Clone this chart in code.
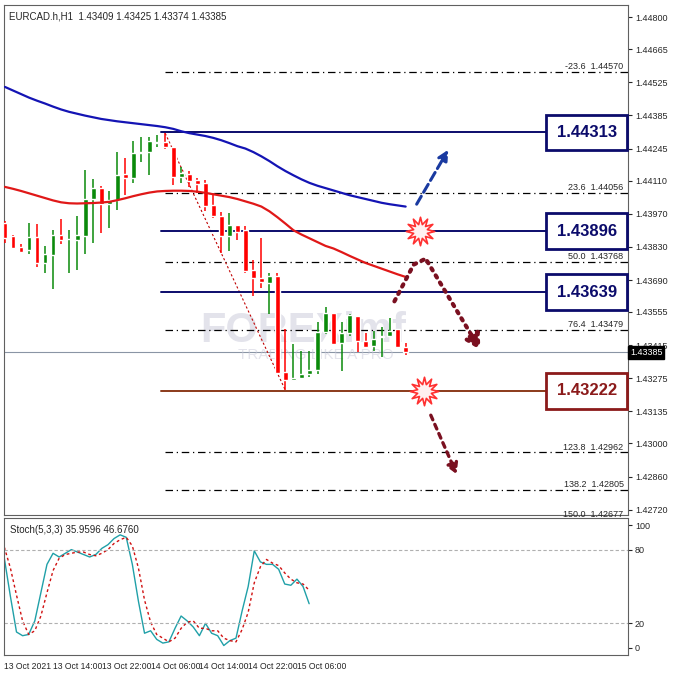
import numpy as np, pandas as pd, seaborn as sns
import matplotlib
matplotlib.use("Agg")
import matplotlib.pyplot as plt
from matplotlib.transforms import blended_transform_factory as btf

sns.set_style("white")
plt.rcParams['font.family'] = ['Liberation Sans', 'DejaVu Sans']

opens = [1.43931,1.43875,1.43829,1.43815,1.43872,1.43760,1.43795,1.43879,1.43862,1.43861,1.43875,1.44033,1.44078,1.44011,1.44029,1.44137,1.44120,1.44225,1.44232,1.44270,1.44274,1.44250,1.44123,1.44138,1.44113,1.44099,1.44005,1.43959,1.43875,1.43921,1.43900,1.43732,1.43700,1.43679,1.43707,1.43300,1.43270,1.43277,1.43294,1.43311,1.43469,1.43549,1.43423,1.43465,1.43539,1.43434,1.43413,1.43448,1.43455,1.43483,1.43409]
highs = [1.43938,1.43882,1.43840,1.43931,1.43927,1.43833,1.43903,1.43948,1.43903,1.43959,1.44155,1.44116,1.44085,1.44064,1.44232,1.44207,1.44277,1.44295,1.44295,1.44302,1.44309,1.44250,1.44169,1.44151,1.44120,1.44113,1.44057,1.43977,1.43973,1.43924,1.43917,1.43773,1.43868,1.43721,1.43721,1.43483,1.43420,1.43392,1.43392,1.43511,1.43574,1.43549,1.43511,1.43546,1.43539,1.43465,1.43476,1.43490,1.43528,1.43483,1.43425]
lows = [1.43847,1.43822,1.43805,1.43798,1.43745,1.43721,1.43651,1.43840,1.43721,1.43731,1.43798,1.43847,1.43889,1.43910,1.43987,1.44050,1.44099,1.44190,1.44134,1.44253,1.44243,1.44092,1.44099,1.44081,1.44057,1.43980,1.43952,1.43805,1.43812,1.43861,1.43721,1.43623,1.43658,1.43546,1.43294,1.43224,1.43263,1.43273,1.43280,1.43294,1.43462,1.43417,1.43308,1.43455,1.43385,1.43406,1.43392,1.43364,1.43448,1.43406,1.43374]
closes = [1.43868,1.43826,1.43809,1.43872,1.43763,1.43798,1.43882,1.43861,1.43865,1.43878,1.44032,1.44078,1.44012,1.44029,1.44134,1.44120,1.44225,1.44232,1.44277,1.44274,1.44250,1.44123,1.44141,1.44109,1.44096,1.44001,1.43959,1.43875,1.43924,1.43892,1.43728,1.43700,1.43680,1.43707,1.43297,1.43266,1.43276,1.43294,1.43311,1.43469,1.43549,1.43420,1.43465,1.43543,1.43434,1.43409,1.43441,1.43454,1.43476,1.43409,1.43385]
ma_slow = [1.44505,1.44490,1.44475,1.44460,1.44447,1.44435,1.44422,1.44410,1.44400,1.44392,1.44384,1.44377,1.44370,1.44365,1.44360,1.44356,1.44352,1.44348,1.44344,1.44340,1.44335,1.44328,1.44318,1.44310,1.44304,1.44298,1.44290,1.44280,1.44268,1.44255,1.44245,1.44230,1.44212,1.44192,1.44170,1.44150,1.44132,1.44115,1.44100,1.44088,1.44078,1.44068,1.44058,1.44048,1.44040,1.44032,1.44024,1.44016,1.44010,1.44005,1.44000]
ma_fast = [1.44083,1.44075,1.44066,1.44056,1.44046,1.44036,1.44026,1.44018,1.44014,1.44013,1.44014,1.44015,1.44017,1.44020,1.44027,1.44035,1.44044,1.44052,1.44059,1.44064,1.44066,1.44067,1.44067,1.44066,1.44063,1.44058,1.44052,1.44046,1.44040,1.44032,1.44022,1.44012,1.44000,1.43980,1.43955,1.43928,1.43900,1.43882,1.43866,1.43850,1.43834,1.43823,1.43808,1.43792,1.43777,1.43762,1.43750,1.43738,1.43726,1.43714,1.43703]
stoch_main = [73,42,13,10,11,22,45,68,77,74,77,80,78,76,74,76,81,84,89,92,90,68,38,12,14,7,4,5,16,26,22,17,10,20,12,10,2,6,8,30,50,79,70,68,68,64,52,51,56,50,36]
stoch_signal = [82,65,43,22,11,14,26,45,63,73,76,77,78,78,76,75,77,80,85,88,90,83,65,39,21,11,8,5,8,16,21,22,16,16,14,14,8,6,5,15,29,53,66,72,69,67,61,56,53,52,47]
fib_levels = ["-23.6","23.6","50.0","76.4","123.8","138.2","150.0"]
fib_prices = [1.44570,1.44056,1.43768,1.43479,1.42962,1.42805,1.42677]
key_levels = [1.44313,1.43896,1.43639]
support_level = 1.43222
current_price = 1.43385
price_ticks = [1.44800,1.44665,1.44525,1.44385,1.44245,1.44110,1.43970,1.43830,1.43690,1.43555,1.43415,1.43275,1.43135,1.43000,1.42860,1.42720]
time_labels = ["13 Oct 2021","13 Oct 14:00","13 Oct 22:00","14 Oct 06:00","14 Oct 14:00","14 Oct 22:00","15 Oct 06:00"]

W = 678
fig = plt.figure(figsize=(6.78,6.78), dpi=100)
ax = fig.add_axes([4/W, 163/W, 624/W, 510/W])
ax2 = fig.add_axes([4/W, 23/W, 624/W, 137/W])
n = len(opens)
idx = np.arange(n)
ax.set_xlim(-0.125, 77.75)
ax.set_ylim(1.42698, 1.44851)

GREEN, RED = "#0a8a0a", "#ff0000"
cols = [GREEN if c >= o else RED for o, c in zip(opens, closes)]
ax.vlines(idx, lows, highs, colors=cols, lw=1.1, zorder=3)
bot = np.minimum(opens, closes); hgt = np.maximum(np.abs(np.array(closes)-np.array(opens)), 0.00003)
ax.bar(idx, hgt, bottom=bot, width=0.6, color=cols, zorder=4)

df = pd.DataFrame({"i": idx, "slow": ma_slow, "fast": ma_fast})
sns.lineplot(data=df, x="i", y="slow", ax=ax, color="#1414b4", lw=1.6, zorder=5)
sns.lineplot(data=df, x="i", y="fast", ax=ax, color="#e01818", lw=1.6, zorder=5)

for lv, p in zip(fib_levels, fib_prices):
    ax.plot([20, 77.75], [p, p], color="black", lw=0.9, ls=(0, (6, 3, 1, 3)), zorder=2)
    ax.text(77.2, p + 0.00004, f"{lv}  {p:.5f}", ha="right", va="bottom", fontsize=6.5)
ax.plot([20, 35], [highs[20], lows[35]], color="#c00000", lw=0.8, ls=(0, (2, 2)), zorder=2)
for p in key_levels:
    ax.plot([19.5, 77.75], [p, p], color="#0b0b6b", lw=1.4, zorder=2)
ax.plot([19.5, 77.75], [support_level]*2, color="#8b3a1a", lw=1.4, zorder=2)
ax.axhline(current_price, color="#8a95a5", lw=0.8, zorder=1)

tr = btf(ax.transAxes, ax.transData)
bb = dict(boxstyle="square,pad=0.62", fc="white", lw=2)
for p in key_levels:
    ax.text(0.934, p, f"{p:.5f}", transform=tr, ha="center", va="center", fontsize=12, fontweight="bold",
            color="#0b0b6b", bbox=dict(bb, ec="#0b0b6b"), zorder=8)
ax.text(0.934, support_level, f"{support_level:.5f}", transform=tr, ha="center", va="center", fontsize=12,
        fontweight="bold", color="#8b1a1a", bbox=dict(bb, ec="#8b1a1a"), zorder=8)

ax.annotate("", xy=(55.5, 1.44250), xytext=(51.2, 1.44000),
            arrowprops=dict(arrowstyle="-|>,head_width=0.3,head_length=0.6", color="#1a3aa0", lw=2.2, ls=(0, (3, 1.5))))
ax.plot([48.6, 51.0, 52.5], [1.43600, 1.43755, 1.43780], color="#7a1020", lw=3, ls=(0, (0.6, 1.4)), dash_capstyle="round", zorder=6)
ax.annotate("", xy=(59.5, 1.43385), xytext=(52.5, 1.43780),
            arrowprops=dict(arrowstyle="-|>,head_width=0.5,head_length=0.9", color="#7a1020", lw=3, ls=(0, (0.6, 1.4))))
ax.annotate("", xy=(56.5, 1.42860), xytext=(53, 1.43130),
            arrowprops=dict(arrowstyle="-|>,head_width=0.35,head_length=0.6", color="#7a1020", lw=2.4, ls=(0, (1.5, 1.5))))
ax.scatter([51.8, 52.3], [1.43896, 1.43222], marker=(12, 1, 0), s=420, c="#fff0f0", edgecolors="#ff3030", lw=1.2, zorder=7)

ax.text(0.48, 0.34, "FOREXimf", transform=ax.transAxes, fontsize=30, fontweight="bold", color="#c8c8d8", alpha=0.5, ha="center", zorder=1)
ax.text(0.5, 0.305, "TRADING LIKE A PRO", transform=ax.transAxes, fontsize=11, color="#c8c8d8", alpha=0.5, ha="center", zorder=1)

ax.text(0.008, 0.988, f"EURCAD.h,H1  {opens[-1]:.5f} {highs[-1]:.5f} {lows[-1]:.5f} {closes[-1]:.5f}",
        transform=ax.transAxes, fontsize=7, va="top")
ax.yaxis.tick_right()
ax.set_yticks(price_ticks)
ax.set_yticklabels([f"{t:.5f}" for t in price_ticks], fontsize=6.5)
ax.set_xticks([]); ax.set_xlabel(""); ax.set_ylabel("")
ax.text(1.003, current_price, f"{current_price:.5f}", transform=tr, fontsize=6.5, color="white", va="center",
        bbox=dict(boxstyle="square,pad=0.2", fc="black", ec="black"), clip_on=False, zorder=9)
ax.tick_params(axis="y", length=3, pad=2)

sd = pd.DataFrame({"i": idx, "m": stoch_main, "s": stoch_signal})
sns.lineplot(data=sd, x="i", y="m", ax=ax2, color="#20a0a8", lw=1.0)
sns.lineplot(data=sd, x="i", y="s", ax=ax2, color="#d01010", lw=1.0, ls=(0, (2, 2)))
ax2.axhline(80, color="#b0b0b0", lw=0.8, ls=(0, (3, 2)))
ax2.axhline(20, color="#b0b0b0", lw=0.8, ls=(0, (3, 2)))
ax2.set_xlim(-0.05, 102.3)
ax2.set_ylim(-5.7, 105.7)
ax2.yaxis.tick_right()
ax2.set_yticks([100, 80, 20, 0]); ax2.set_yticklabels(["100", "80", "20", "0"], fontsize=6.5)
ax2.set_xticks(np.arange(0, 49, 8))
ax2.set_xticklabels(time_labels, fontsize=6.2, ha="left")
ax2.tick_params(axis="x", length=3, pad=2)
ax2.tick_params(axis="y", length=3, pad=2)
ax2.set_xlabel(""); ax2.set_ylabel("")
ax2.text(0.01, 0.95, "Stoch(5,3,3) 35.9596 46.6760", transform=ax2.transAxes, fontsize=7, va="top")
for a in (ax, ax2):
    for s in a.spines.values():
        s.set_color("#606060"); s.set_linewidth(0.8)
fig.savefig("out.png", dpi=100)
